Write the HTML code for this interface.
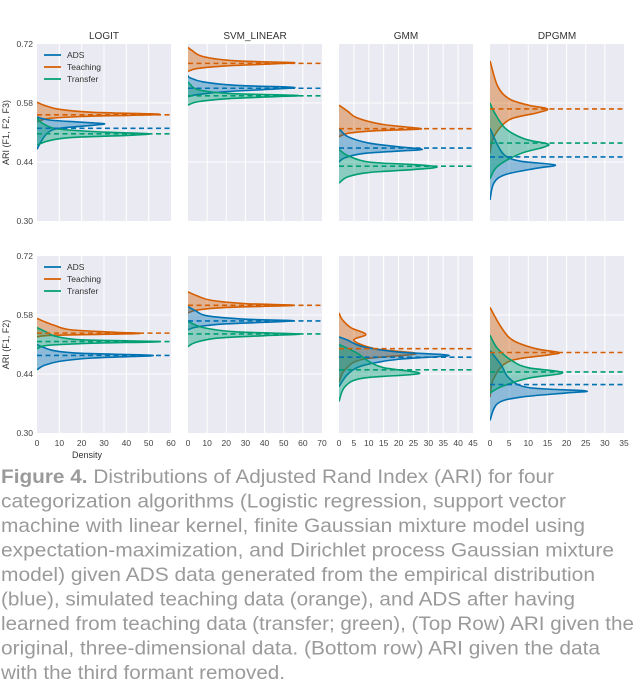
<!DOCTYPE html>
<html><head><meta charset="utf-8"><style>
html,body{margin:0;padding:0;background:#fff;width:640px;height:680px;overflow:hidden}
svg{display:block;font-family:"Liberation Sans",sans-serif}
</style></head><body>
<svg id="fig" width="640" height="680" viewBox="0 0 640 680"></svg>
<script>
// ---- chart data (ARI value, density) ----
const panelTitles = ["LOGIT","SVM_LINEAR","GMM","DPGMM"];
const xMaxes = [60,70,45,35];
const xSteps = [10,10,5,5];
const yTicks = [0.30,0.44,0.58,0.72];
const seriesNames = ["ADS","Teaching","Transfer"];
// top row
const t0_ads_ari=[0.47,0.49,0.51,0.52,0.527,0.531,0.535,0.54,0.547], t0_ads_den=[0,2,5,10,25,30,18,5,0];
const t0_tea_ari=[0.535,0.543,0.548,0.553,0.558,0.565,0.575,0.582], t0_tea_den=[0,5,20,55,25,10,3,0];
const t0_tra_ari=[0.48,0.49,0.498,0.503,0.507,0.511,0.518,0.53,0.545], t0_tra_den=[0,5,15,40,50,30,10,3,0];
const t0_means=[0.52,0.552,0.507];
const t1_ads_ari=[0.595,0.6,0.607,0.613,0.617,0.622,0.63,0.64,0.645], t1_ads_den=[0,5,20,45,55,25,8,1,0];
const t1_tea_ari=[0.655,0.662,0.668,0.673,0.676,0.68,0.69,0.705,0.712], t1_tea_den=[0,5,20,45,55,25,8,2,0];
const t1_tra_ari=[0.575,0.583,0.59,0.595,0.598,0.603,0.612,0.625,0.63], t1_tra_den=[0,5,20,45,57,20,5,1,0];
const t1_means=[0.615,0.674,0.597];
const t2_ads_ari=[0.44,0.45,0.46,0.466,0.47,0.476,0.485,0.5,0.52], t2_ads_den=[0,2,8,20,28,20,10,3,0];
const t2_tea_ari=[0.5,0.508,0.514,0.518,0.522,0.53,0.545,0.56,0.575], t2_tea_den=[0,3,12,27,24,14,6,3,0];
const t2_tra_ari=[0.39,0.405,0.415,0.422,0.428,0.434,0.44,0.455,0.47], t2_tra_den=[0,3,10,25,33,25,10,3,0];
const t2_means=[0.473,0.519,0.43];
const t3_ads_ari=[0.35,0.39,0.41,0.425,0.433,0.442,0.455,0.48,0.52], t3_ads_den=[0,1,4,12,17,8,4,2,0];
const t3_tea_ari=[0.46,0.5,0.54,0.556,0.566,0.575,0.59,0.62,0.68], t3_tea_den=[0,1,5,12,15,10,5,2,0];
const t3_tra_ari=[0.4,0.43,0.46,0.475,0.483,0.495,0.52,0.56,0.58], t3_tra_den=[0,2,8,14,15,9,4,1,0];
const t3_means=[0.452,0.566,0.485];
// bottom row
const b0_ads_ari=[0.45,0.46,0.47,0.478,0.484,0.489,0.495,0.505,0.51], b0_ads_den=[0,3,10,25,52,20,8,2,0];
const b0_tea_ari=[0.528,0.532,0.536,0.539,0.545,0.555,0.565,0.572], b0_tea_den=[0,8,45,35,15,8,3,0];
const b0_tra_ari=[0.5,0.508,0.513,0.517,0.521,0.53,0.54,0.55], b0_tra_den=[0,5,25,55,20,8,4,0];
const b0_means=[0.484,0.537,0.517];
const b1_ads_ari=[0.545,0.552,0.559,0.566,0.57,0.578,0.59,0.6], b1_ads_den=[0,5,20,55,30,10,4,0];
const b1_tea_ari=[0.585,0.592,0.598,0.603,0.607,0.615,0.625,0.635], b1_tea_den=[0,5,20,55,30,12,5,0];
const b1_tra_ari=[0.505,0.515,0.525,0.531,0.535,0.54,0.55,0.565], b1_tra_den=[0,4,15,40,58,25,8,0];
const b1_means=[0.566,0.603,0.535];
const b2_ads_ari=[0.41,0.44,0.46,0.475,0.484,0.492,0.505,0.52,0.528], b2_ads_den=[0,3,8,20,37,20,8,3,0];
const b2_tea_ari=[0.42,0.45,0.475,0.488,0.5,0.52,0.534,0.55,0.57,0.585], b2_tea_den=[0,2,8,26,12,5,9,4,1,0];
const b2_tra_ari=[0.375,0.41,0.43,0.441,0.455,0.47,0.49,0.51], b2_tra_den=[0,2,8,27,15,10,6,0];
const b2_means=[0.48,0.5,0.45];
const b3_ads_ari=[0.33,0.37,0.385,0.395,0.4,0.408,0.43,0.46,0.496], b3_ads_den=[0,2,8,20,25,10,5,3,0];
const b3_tea_ari=[0.385,0.43,0.47,0.485,0.491,0.5,0.52,0.55,0.598], b3_tea_den=[0,1,5,15,18,12,6,3,0];
const b3_tra_ari=[0.395,0.41,0.43,0.443,0.455,0.47,0.5,0.532], b3_tra_den=[0,3,10,19,10,6,2,0];
const b3_means=[0.415,0.491,0.445];

const panels = [
 [[t0_ads_ari,t0_ads_den],[t0_tea_ari,t0_tea_den],[t0_tra_ari,t0_tra_den],t0_means],
 [[t1_ads_ari,t1_ads_den],[t1_tea_ari,t1_tea_den],[t1_tra_ari,t1_tra_den],t1_means],
 [[t2_ads_ari,t2_ads_den],[t2_tea_ari,t2_tea_den],[t2_tra_ari,t2_tra_den],t2_means],
 [[t3_ads_ari,t3_ads_den],[t3_tea_ari,t3_tea_den],[t3_tra_ari,t3_tra_den],t3_means],
 [[b0_ads_ari,b0_ads_den],[b0_tea_ari,b0_tea_den],[b0_tra_ari,b0_tra_den],b0_means],
 [[b1_ads_ari,b1_ads_den],[b1_tea_ari,b1_tea_den],[b1_tra_ari,b1_tra_den],b1_means],
 [[b2_ads_ari,b2_ads_den],[b2_tea_ari,b2_tea_den],[b2_tra_ari,b2_tra_den],b2_means],
 [[b3_ads_ari,b3_ads_den],[b3_tea_ari,b3_tea_den],[b3_tra_ari,b3_tra_den],b3_means]
];
const colors=["#0072B2","#D55E00","#009E73"];
const colX=[37,188,339,490], PW=134, rowY=[44,256], PH=177;
const NS="http://www.w3.org/2000/svg";
const svg=document.getElementById('fig');
function mk(tag,attrs,parent){const e=document.createElementNS(NS,tag);for(const k in attrs)e.setAttribute(k,attrs[k]);(parent||svg).appendChild(e);return e;}
function txt(s,attrs,parent){const e=mk('text',attrs,parent);e.textContent=s;return e;}
function smooth(pts){let d="M"+pts[0][0].toFixed(2)+","+pts[0][1].toFixed(2);
 for(let i=0;i<pts.length-1;i++){const p0=pts[i-1]||pts[i],p1=pts[i],p2=pts[i+1],p3=pts[i+2]||p2;
  const c1=[p1[0]+(p2[0]-p0[0])/6,p1[1]+(p2[1]-p0[1])/6],c2=[p2[0]-(p3[0]-p1[0])/6,p2[1]-(p3[1]-p1[1])/6];
  d+="C"+c1[0].toFixed(2)+","+c1[1].toFixed(2)+" "+c2[0].toFixed(2)+","+c2[1].toFixed(2)+" "+p2[0].toFixed(2)+","+p2[1].toFixed(2);}
 return d;}
const defs=mk('defs',{});
panels.forEach((pd,pi)=>{
 const r=Math.floor(pi/4), c=pi%4, x0=colX[c], y0=rowY[r];
 const xMax=xMaxes[c];
 const X=v=>x0+v/xMax*PW;
 const Y=v=>y0+(0.72-v)/0.42*PH;
 const g=mk('g',{});
 
 
 const cp=mk('clipPath',{id:'cp'+pi},defs);mk('rect',{x:x0,y:y0,width:PW,height:PH},cp);
 const bg=mk('rect',{x:x0,y:y0,width:PW,height:PH,fill:'#eaeaf2'},g);
 
 for(let t=xSteps[c];t<xMax;t+=xSteps[c]) mk('line',{x1:X(t),x2:X(t),y1:y0,y2:y0+PH,stroke:'#fff','stroke-width':1},g);
 yTicks.forEach(t=>{if(t>0.3&&t<0.72)mk('line',{x1:x0,x2:x0+PW,y1:Y(t),y2:Y(t),stroke:'#fff','stroke-width':1},g);});
 const cg=mk('g',{'clip-path':'url(#cp'+pi+')'},g);
 [1,0,2].forEach(si=>{
  const ari=pd[si][0], den=pd[si][1];
  const pts=ari.map((a,i)=>[X(den[i]),Y(a)]);
  const d=smooth(pts);
  const f=mk('path',{d:d+"L"+X(0)+","+pts[pts.length-1][1]+"L"+X(0)+","+pts[0][1]+"Z",fill:colors[si],'fill-opacity':0.4,stroke:'none'},cg);
  
  
  const l=mk('path',{d:d,fill:'none',stroke:colors[si],'stroke-width':1.6},cg);
  
  
 });
 pd[3].forEach((m,si)=>{
  const ml=mk('line',{x1:x0,x2:x0+PW,y1:Y(m),y2:Y(m),stroke:colors[si],'stroke-width':1.6,'stroke-dasharray':'5,3.5'},g);
  
  
 });
 if(r===0){const tt=txt(panelTitles[c],{x:x0+PW/2,y:y0-5,'text-anchor':'middle','font-size':10,fill:'#333'});
  }
 if(c===0){yTicks.forEach(t=>{const l=txt(t.toFixed(2),{x:x0-4,y:Y(t)+3,'text-anchor':'end','font-size':8.5,fill:'#444'});
   });
  const cy=y0+PH/2;
  const yt=txt(r?'ARI (F1, F2)':'ARI (F1, F2, F3)',{x:9,y:cy,transform:'rotate(-90 9 '+cy+')','text-anchor':'middle','font-size':9,fill:'#333'});
  
  const lg=mk('g',{});
  seriesNames.forEach((n,si)=>{const ly=y0+11+si*12;
   mk('line',{x1:x0+7,x2:x0+24,y1:ly,y2:ly,stroke:colors[si],'stroke-width':1.8},lg);
   const e=txt(n,{x:x0+30,y:ly+3,'font-size':8.5,fill:'#333'},lg);
   });
 }
 if(r===1){for(let t=0;t<=xMax;t+=xSteps[c]){const l=txt(String(t),{x:X(t),y:y0+PH+13,'text-anchor':'middle','font-size':8.5,fill:'#444'});
   }}
});
const xt=txt('Density',{x:87,y:458,'text-anchor':'middle','font-size':9,fill:'#333'});

const capLines=[
 ["Figure 4. Distributions of Adjusted Rand Index (ARI) for four",554],
 ["categorization algorithms (Logistic regression, support vector",566],
 ["machine with linear kernel, finite Gaussian mixture model using",585],
 ["expectation-maximization, and Dirichlet process Gaussian mixture",614],
 ["model) given ADS data generated from the empirical distribution",595],
 ["(blue), simulated teaching data (orange), and ADS after having",575],
 ["learned from teaching data (transfer; green), (Top Row) ARI given the",634],
 ["original, three-dimensional data. (Bottom row) ARI given the data",600],
 ["with the third formant removed.",285]];
const cg=mk('g',{});
capLines.forEach((L,i)=>{
 const t=mk('text',{x:1,y:483+i*24.5,'font-size':19.5,fill:'#9a9a9a',textLength:L[1]-1,lengthAdjust:'spacingAndGlyphs'},cg);
 if(i===0){const b=mk('tspan',{'font-weight':'bold'},t);b.textContent="Figure 4.";const r=mk('tspan',{},t);r.textContent=L[0].slice(9);}
 else t.textContent=L[0];
 
 
});
</script>
</body></html>
